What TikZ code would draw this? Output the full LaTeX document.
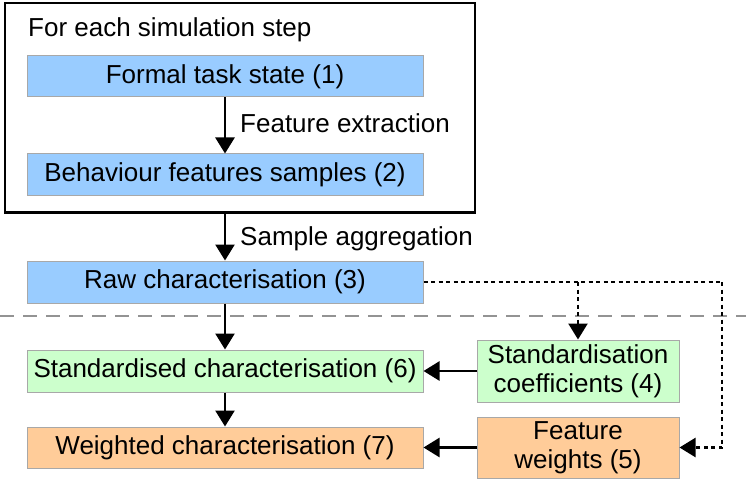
\documentclass[tikz,border=0pt]{standalone}
\usepackage{fontspec}
\setmainfont{Liberation Sans}
\usetikzlibrary{arrows.meta}
\definecolor{bluebox}{HTML}{99CCFF}
\definecolor{greenbox}{HTML}{CCFFCC}
\definecolor{orangebox}{HTML}{FFCC99}
\definecolor{boxedge}{HTML}{A8A8A8}
\begin{document}
\begin{tikzpicture}[x=1pt,y=-1pt,
  every node/.style={font=\fontsize{26}{29}\selectfont, inner sep=0pt},
  box/.style={draw=boxedge, line width=1pt, align=center},
  widebox/.style={box, minimum width=396pt},
  sidebox/.style={box, minimum width=202pt},
  tip/.style={-{Triangle[length=16pt,width=19pt]}},
  arr/.style={line width=2.6pt, tip},
  dotline/.style={line width=2.4pt, dash pattern=on 4pt off 3.5pt},
  lbl/.style={anchor=base west}]
\useasboundingbox (0,0) rectangle (746,481);
% outer frame
\node[draw, line width=2.6pt, minimum width=470pt, minimum height=209.5pt] (outer) at (240,107.75) {};
\node[lbl] (title) at (28,37) {For each simulation step};
% boxes
\node[widebox, fill=bluebox, minimum height=41pt] (b1) at (225,76.5) {Formal task state (1)};
\node[widebox, fill=bluebox, minimum height=41pt] (b2) at (225,174.5) {Behaviour features samples (2)};
\node[widebox, fill=bluebox, minimum height=42pt] (b3) at (225,282) {Raw characterisation (3)};
\node[widebox, fill=greenbox, minimum height=42pt] (b6) at (225,371) {Standardised characterisation (6)};
\node[widebox, fill=orangebox, minimum height=41pt] (b7) at (225,447.5) {Weighted characterisation (7)};
\node[sidebox, fill=greenbox, minimum height=62pt] (b4) at (578,371) {Standardisation\\coefficients (4)};
\node[sidebox, fill=orangebox, minimum height=61pt] (b5) at (578,447.5) {Feature\\weights (5)};
% labels
\node[lbl] (l1) at (240,133) {Feature extraction};
\node[lbl] (l2) at (240,245) {Sample aggregation};
% separator
\coordinate (sepL) at (0,316);
\coordinate (sepR) at (746,316);
\draw[gray!85, line width=2pt, dash pattern=on 14pt off 9pt] (sepL) -- (sepR);
% arrows
\draw[arr] (b1) -- (b2);
\draw[arr] (b3.north |- outer.south) -- (b3);
\draw[arr] (b3) -- (b6);
\draw[arr] (b6) -- (b7);
\draw[arr] (b4) -- (b6);
\draw[arr] (b5) -- (b7);
% dotted connectors
\coordinate (turn) at (722,282);
\draw[dotline] (b3.east) -- (turn);
\draw[dotline, tip] (b4.north |- b3.east) -- (b4.north);
\draw[dotline, tip] (turn) |- (b5.east);
\end{tikzpicture}
\end{document}
